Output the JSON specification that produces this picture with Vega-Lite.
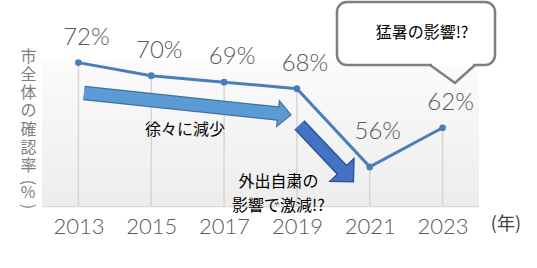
{
  "$schema": "https://vega.github.io/schema/vega-lite/v6.json",
  "width": 437,
  "height": 146,
  "autosize": {"type": "none"},
  "padding": {"left": 42, "top": 60, "right": 58, "bottom": 62},
  "background": "white",
  "config": {"view": {"stroke": null}},
  "resolve": {"axis": {"x": "independent", "y": "independent"}},
  "datasets": {
    "rates": [
      {"year": 2013, "rate": 72, "label": "72%"},
      {"year": 2015, "rate": 70, "label": "70%"},
      {"year": 2017, "rate": 69, "label": "69%"},
      {"year": 2019, "rate": 68, "label": "68%"},
      {"year": 2021, "rate": 56, "label": "56%"},
      {"year": 2023, "rate": 62, "label": "62%"}
    ],
    "shaft1": [{"x": 2013.153, "y": 67.34, "x2": 2018.535, "y2": 64.16}],
    "head1": [{"x": 2018.659, "y": 64.08}],
    "shaft2": [{"x": 2019.071, "y": 62.43, "x2": 2020.276, "y2": 55.32}],
    "head2": [{"x": 2020.394, "y": 54.63}],
    "bubbleTail": [
      {"x": 2022.654, "y": 71.63},
      {"x": 2023.341, "y": 68.87},
      {"x": 2023.89, "y": 71.63}
    ]
  },
  "layer": [
    {
      "data": {"values": [{}]},
      "mark": {"type": "rect", "color": {"gradient": "linear", "x1": 0, "y1": 0, "x2": 0, "y2": 1, "stops": [{"offset": 0, "color": "#fbfbfb"}, {"offset": 1, "color": "#ededed"}]}},
      "encoding": {
        "x": {"datum": 2012, "type": "quantitative", "scale": {"domain": [2012, 2024], "nice": false, "zero": false},
          "axis": {"orient": "bottom", "values": [2013, 2015, 2017, 2019, 2021, 2023], "format": "d", "title": null, "grid": false, "ticks": false, "labelPadding": 10, "labelFont": "Lato", "labelFontWeight": 300, "labelFontSize": 22, "labelColor": "#595959", "domainColor": "#d9d9d9", "domainWidth": 1.5, "labelFlush": false, "labelOverlap": false}},
        "x2": {"datum": 2024},
        "y": {"datum": 50, "type": "quantitative", "scale": {"domain": [50, 72.4], "nice": false, "zero": false},
          "axis": {"orient": "left", "title": ["市", "全", "体", "の", "確", "認", "率"], "titleAngle": 0, "titleAlign": "center", "titleBaseline": "top", "titleX": -14, "titleY": -12, "titleFont": "Noto Sans CJK JP", "titleFontSize": 16, "titleFontWeight": "normal", "titleColor": "#7f7f7f", "titleLineHeight": 18.3, "labels": false, "ticks": false, "domain": false, "grid": false}},
        "y2": {"datum": 72.4}
      }
    },
    {
      "data": {"name": "rates"},
      "mark": {"type": "rule", "color": "#d6d6d6", "strokeWidth": 1.5},
      "encoding": {
        "x": {"field": "year", "type": "quantitative", "scale": {"domain": [2012, 2024], "nice": false, "zero": false}, "axis": null},
        "y": {"field": "rate", "type": "quantitative", "scale": {"domain": [50, 72.4], "nice": false, "zero": false}, "axis": null},
        "y2": {"datum": 50}
      }
    },
    {
      "data": {"name": "shaft1"},
      "mark": {"type": "rule", "color": "#41719c", "strokeWidth": 14.5, "strokeCap": "butt"},
      "encoding": {
        "x": {"field": "x", "type": "quantitative", "scale": {"domain": [2012, 2024], "nice": false, "zero": false}, "axis": null},
        "y": {"field": "y", "type": "quantitative", "scale": {"domain": [50, 72.4], "nice": false, "zero": false}, "axis": null},
        "x2": {"field": "x2"},
        "y2": {"field": "y2"}
      }
    },
    {
      "data": {"name": "head1"},
      "mark": {"type": "point", "shape": "M-0.5,-1L0.5,0L-0.5,1Z", "size": 676, "angle": 6, "filled": true, "fill": "#5b9bd5", "stroke": "#41719c", "strokeWidth": 1.2, "opacity": 1},
      "encoding": {
        "x": {"field": "x", "type": "quantitative", "scale": {"domain": [2012, 2024], "nice": false, "zero": false}, "axis": null},
        "y": {"field": "y", "type": "quantitative", "scale": {"domain": [50, 72.4], "nice": false, "zero": false}, "axis": null}
      }
    },
    {
      "data": {"name": "shaft1"},
      "mark": {"type": "rule", "color": "#5b9bd5", "strokeWidth": 12, "strokeCap": "butt"},
      "encoding": {
        "x": {"field": "x", "type": "quantitative", "scale": {"domain": [2012, 2024], "nice": false, "zero": false}, "axis": null},
        "y": {"field": "y", "type": "quantitative", "scale": {"domain": [50, 72.4], "nice": false, "zero": false}, "axis": null},
        "x2": {"field": "x2"},
        "y2": {"field": "y2"}
      }
    },
    {
      "data": {"name": "shaft2"},
      "mark": {"type": "rule", "color": "#2f5597", "strokeWidth": 14, "strokeCap": "butt"},
      "encoding": {
        "x": {"field": "x", "type": "quantitative", "scale": {"domain": [2012, 2024], "nice": false, "zero": false}, "axis": null},
        "y": {"field": "y", "type": "quantitative", "scale": {"domain": [50, 72.4], "nice": false, "zero": false}, "axis": null},
        "x2": {"field": "x2"},
        "y2": {"field": "y2"}
      }
    },
    {
      "data": {"name": "head2"},
      "mark": {"type": "point", "shape": "M-0.5,-1L0.5,0L-0.5,1Z", "size": 1089, "angle": 46.5, "filled": true, "fill": "#4472c4", "stroke": "#2f5597", "strokeWidth": 1.5, "opacity": 1},
      "encoding": {
        "x": {"field": "x", "type": "quantitative", "scale": {"domain": [2012, 2024], "nice": false, "zero": false}, "axis": null},
        "y": {"field": "y", "type": "quantitative", "scale": {"domain": [50, 72.4], "nice": false, "zero": false}, "axis": null}
      }
    },
    {
      "data": {"name": "shaft2"},
      "mark": {"type": "rule", "color": "#4472c4", "strokeWidth": 11, "strokeCap": "butt"},
      "encoding": {
        "x": {"field": "x", "type": "quantitative", "scale": {"domain": [2012, 2024], "nice": false, "zero": false}, "axis": null},
        "y": {"field": "y", "type": "quantitative", "scale": {"domain": [50, 72.4], "nice": false, "zero": false}, "axis": null},
        "x2": {"field": "x2"},
        "y2": {"field": "y2"}
      }
    },
    {
      "data": {"name": "rates"},
      "mark": {"type": "line", "color": "#4a7ebb", "strokeWidth": 3},
      "encoding": {
        "x": {"field": "year", "type": "quantitative", "scale": {"domain": [2012, 2024], "nice": false, "zero": false}, "axis": null},
        "y": {"field": "rate", "type": "quantitative", "scale": {"domain": [50, 72.4], "nice": false, "zero": false}, "axis": null}
      }
    },
    {
      "data": {"name": "rates"},
      "mark": {"type": "point", "filled": true, "color": "#4a7ebb", "size": 45, "opacity": 1},
      "encoding": {
        "x": {"field": "year", "type": "quantitative", "scale": {"domain": [2012, 2024], "nice": false, "zero": false}, "axis": null},
        "y": {"field": "rate", "type": "quantitative", "scale": {"domain": [50, 72.4], "nice": false, "zero": false}, "axis": null}
      }
    },
    {
      "data": {"name": "rates"},
      "transform": [{"filter": "datum.year != 2021"}],
      "mark": {"type": "text", "font": "Lato", "fontWeight": 300, "fontSize": 24, "color": "#595959", "dx": 8, "dy": -25, "align": "center", "baseline": "middle"},
      "encoding": {
        "x": {"field": "year", "type": "quantitative", "scale": {"domain": [2012, 2024], "nice": false, "zero": false}, "axis": null},
        "y": {"field": "rate", "type": "quantitative", "scale": {"domain": [50, 72.4], "nice": false, "zero": false}, "axis": null},
        "text": {"field": "label"}
      }
    },
    {
      "data": {"name": "rates"},
      "transform": [{"filter": "datum.year == 2021"}],
      "mark": {"type": "text", "font": "Lato", "fontWeight": 300, "fontSize": 24, "color": "#595959", "dx": 8, "dy": -35, "align": "center", "baseline": "middle"},
      "encoding": {
        "x": {"field": "year", "type": "quantitative", "scale": {"domain": [2012, 2024], "nice": false, "zero": false}, "axis": null},
        "y": {"field": "rate", "type": "quantitative", "scale": {"domain": [50, 72.4], "nice": false, "zero": false}, "axis": null},
        "text": {"field": "label"}
      }
    },
    {
      "data": {"values": [{"note": "徐々に減少"}]},
      "mark": {"type": "text", "font": "Noto Sans CJK JP", "fontSize": 16, "color": "#000000", "align": "center", "baseline": "middle"},
      "encoding": {
        "x": {"datum": 2015.93, "type": "quantitative", "scale": {"domain": [2012, 2024], "nice": false, "zero": false}, "axis": null},
        "y": {"datum": 61.66, "type": "quantitative", "scale": {"domain": [50, 72.4], "nice": false, "zero": false}, "axis": null},
        "text": {"field": "note"}
      }
    },
    {
      "data": {"values": [{"note": "外出自粛の\n影響で激減!?"}]},
      "mark": {"type": "text", "font": "Noto Sans CJK JP", "fontSize": 16, "color": "#000000", "align": "center", "baseline": "middle", "lineBreak": "\n", "lineHeight": 24},
      "encoding": {
        "x": {"datum": 2018.494, "type": "quantitative", "scale": {"domain": [2012, 2024], "nice": false, "zero": false}, "axis": null},
        "y": {"datum": 53.61, "type": "quantitative", "scale": {"domain": [50, 72.4], "nice": false, "zero": false}, "axis": null},
        "text": {"field": "note"}
      }
    },
    {
      "data": {"values": [{}]},
      "mark": {"type": "rect", "fill": "#ffffff", "stroke": "#7f7f7f", "strokeWidth": 2.5, "cornerRadius": 10},
      "encoding": {
        "x": {"datum": 2020.1, "type": "quantitative", "scale": {"domain": [2012, 2024], "nice": false, "zero": false}, "axis": null},
        "x2": {"datum": 2024.44},
        "y": {"datum": 81.3, "type": "quantitative", "scale": {"domain": [50, 72.4], "nice": false, "zero": false}, "axis": null},
        "y2": {"datum": 71.63}
      }
    },
    {
      "data": {"values": [{}]},
      "mark": {"type": "rule", "color": "#ffffff", "strokeWidth": 4},
      "encoding": {
        "x": {"datum": 2022.71, "type": "quantitative", "scale": {"domain": [2012, 2024], "nice": false, "zero": false}, "axis": null},
        "x2": {"datum": 2023.84},
        "y": {"datum": 71.63, "type": "quantitative", "scale": {"domain": [50, 72.4], "nice": false, "zero": false}, "axis": null}
      }
    },
    {
      "data": {"name": "bubbleTail"},
      "mark": {"type": "line", "color": "#7f7f7f", "strokeWidth": 2.5},
      "encoding": {
        "x": {"field": "x", "type": "quantitative", "scale": {"domain": [2012, 2024], "nice": false, "zero": false}, "axis": null},
        "y": {"field": "y", "type": "quantitative", "scale": {"domain": [50, 72.4], "nice": false, "zero": false}, "axis": null}
      }
    },
    {
      "data": {"values": [{"note": "猛暑の影響!?"}]},
      "mark": {"type": "text", "font": "Noto Sans CJK JP", "fontSize": 16, "color": "#000000", "align": "center", "baseline": "middle"},
      "encoding": {
        "x": {"datum": 2022.435, "type": "quantitative", "scale": {"domain": [2012, 2024], "nice": false, "zero": false}, "axis": null},
        "y": {"datum": 76.54, "type": "quantitative", "scale": {"domain": [50, 72.4], "nice": false, "zero": false}, "axis": null},
        "text": {"field": "note"}
      }
    },
    {
      "data": {"values": [{"note": "(年)"}]},
      "mark": {"type": "text", "font": "Noto Sans CJK JP", "fontSize": 18, "color": "#404040", "align": "center", "baseline": "middle"},
      "encoding": {
        "x": {"datum": 2024.74, "type": "quantitative", "scale": {"domain": [2012, 2024], "nice": false, "zero": false}, "axis": null},
        "y": {"datum": 47.1, "type": "quantitative", "scale": {"domain": [50, 72.4], "nice": false, "zero": false}, "axis": null},
        "text": {"field": "note"}
      }
    },
    {
      "data": {"values": [{"note": "％"}]},
      "mark": {"type": "text", "font": "Noto Sans CJK JP", "fontSize": 16, "color": "#7f7f7f", "align": "center", "baseline": "middle"},
      "encoding": {
        "x": {"datum": 2011.616, "type": "quantitative", "scale": {"domain": [2012, 2024], "nice": false, "zero": false}, "axis": null},
        "y": {"datum": 51.92, "type": "quantitative", "scale": {"domain": [50, 72.4], "nice": false, "zero": false}, "axis": null},
        "text": {"field": "note"}
      }
    },
    {
      "data": {"values": [{"note": "("}]},
      "mark": {"type": "text", "font": "Noto Sans CJK JP", "fontSize": 16, "color": "#7f7f7f", "align": "center", "baseline": "middle", "angle": 90},
      "encoding": {
        "x": {"datum": 2011.616, "type": "quantitative", "scale": {"domain": [2012, 2024], "nice": false, "zero": false}, "axis": null},
        "y": {"datum": 53.61, "type": "quantitative", "scale": {"domain": [50, 72.4], "nice": false, "zero": false}, "axis": null},
        "text": {"field": "note"}
      }
    },
    {
      "data": {"values": [{"note": ")"}]},
      "mark": {"type": "text", "font": "Noto Sans CJK JP", "fontSize": 16, "color": "#7f7f7f", "align": "center", "baseline": "middle", "angle": 90},
      "encoding": {
        "x": {"datum": 2011.616, "type": "quantitative", "scale": {"domain": [2012, 2024], "nice": false, "zero": false}, "axis": null},
        "y": {"datum": 49.92, "type": "quantitative", "scale": {"domain": [50, 72.4], "nice": false, "zero": false}, "axis": null},
        "text": {"field": "note"}
      }
    }
  ]
}
